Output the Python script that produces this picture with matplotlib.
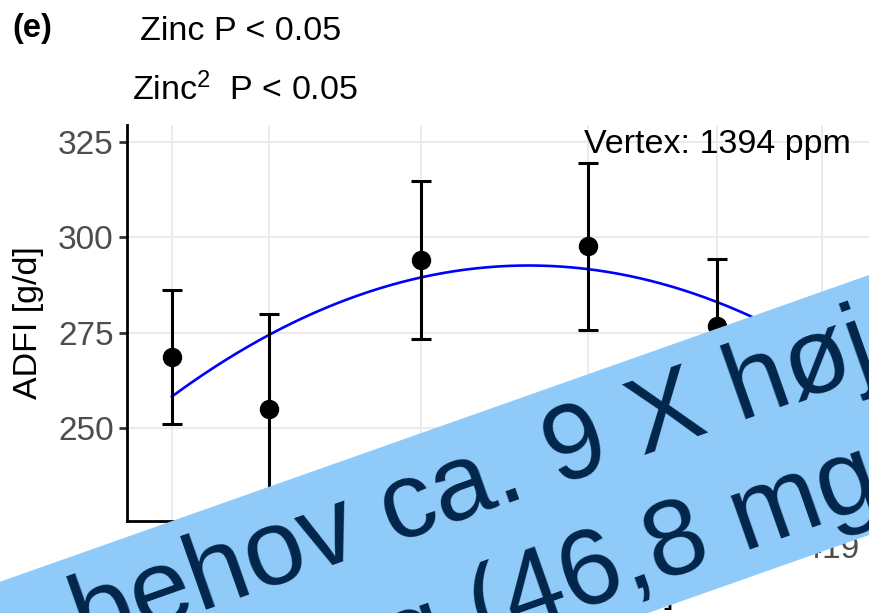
import numpy as np
import matplotlib
matplotlib.use("Agg")
import matplotlib.pyplot as plt
from matplotlib.patches import Polygon

# ADFI response to dietary zinc, mean +/- SE per dose group
zinc_ppm = [148, 487, 1018, 1602, 2052, 2419]
adfi_mean = [268.5, 254.8, 294.0, 297.6, 276.6, 263.0]
adfi_se = [17.6, 25.1, 20.7, 21.9, 17.8, 18.0]

# quadratic fit, written in vertex form
vertex_ppm = 1394
peak_adfi = 292.6
curvature = -2.216e-5

y_ticks = [250, 275, 300, 325]

COL_FIT = "#0000FF"
COL_TICK = "#4D4D4D"
COL_GRID = "#EBEBEB"
COL_BANNER = "#90CAF9"
COL_BANNER_TXT = "#02254A"

W, H = 869, 613
FS = 24.5

plt.rcParams.update({
    "font.family": ["Liberation Sans", "DejaVu Sans"],
    "mathtext.fontset": "custom",
    "mathtext.rm": "Liberation Sans",
    "mathtext.it": "Liberation Sans:italic",
    "mathtext.bf": "Liberation Sans:bold",
})


def px(x, y):
    # pixel position (from top-left) -> figure fraction
    return x / W, 1 - y / H


fig = plt.figure(figsize=(W / 100, H / 100), dpi=100)
ax = fig.add_axes([127 / W, 1 - 521 / H, 1 - 127 / W, (521 - 125) / H])

ax.set_xlim(-9, 2583)
ax.set_ylim(225.5, 329.5)

ax.set_xticks(zinc_ppm)
ax.set_xticklabels([str(v) for v in zinc_ppm])
ax.set_yticks(y_ticks)

ax.grid(True, color=COL_GRID, lw=1.5, zorder=0)
ax.set_axisbelow(True)
for side in ("top", "right"):
    ax.spines[side].set_visible(False)
for side in ("left", "bottom"):
    ax.spines[side].set_linewidth(2.0)
    ax.spines[side].set_color("black")
    ax.spines[side].set_capstyle("projecting")
ax.tick_params(axis="both", length=5.5, width=2.0, color="#333333",
               labelsize=24, labelcolor=COL_TICK, pad=4)

zx = np.linspace(min(zinc_ppm), max(zinc_ppm), 300)
ax.plot(zx, peak_adfi + curvature * (zx - vertex_ppm) ** 2,
        color=COL_FIT, lw=1.9, zorder=2)

ax.errorbar(zinc_ppm, adfi_mean, yerr=adfi_se, fmt="o", color="black",
            ms=13, elinewidth=2.2, capsize=7.5, capthick=2.2, zorder=3)

ax.text(2052, 324.3, f"Vertex: {vertex_ppm} ppm", ha="center", va="center",
        fontsize=FS, color="black")

ax.set_ylabel("ADFI [g/d]", fontsize=FS, labelpad=10)
ax.set_xlabel("Dietary zinc level [ppm]", fontsize=FS, labelpad=10)

fig.text(*px(12, 37), "(e)", fontsize=23.5, fontweight="bold", ha="left",
         va="baseline")
fig.text(*px(241, 40), "Zinc P < 0.05", fontsize=FS, ha="center",
         va="baseline")
fig.text(*px(245, 100), r"Zinc$^{2}$  P < 0.05", fontsize=FS, ha="center",
         va="baseline")

# diagonal banner laid over the lower right of the figure
slope = 0.353
ang = np.degrees(np.arctan(slope))


def edge(x, y_right):
    return px(x, y_right + slope * (W - x))


banner = Polygon([edge(-200, 275), edge(1100, 275), edge(1100, 535),
                  edge(-200, 535)], closed=True, transform=fig.transFigure,
                 facecolor=COL_BANNER, edgecolor="none", zorder=10)
fig.add_artist(banner)

fig.text(*px(86, 652), "behov ca. 9 X højere", fontsize=78,
         color=COL_BANNER_TXT, rotation=ang, rotation_mode="anchor",
         ha="left", va="baseline", zorder=11)
fig.text(*px(482, 644), "(46,8 mg/dag)", fontsize=78,
         color=COL_BANNER_TXT, rotation=ang, rotation_mode="anchor",
         ha="left", va="baseline", zorder=11)
fig.text(*px(454, 654), "pr. dag", fontsize=78,
         color=COL_BANNER_TXT, rotation=ang, rotation_mode="anchor",
         ha="right", va="baseline", zorder=11)

fig.savefig("out.png", dpi=100)
